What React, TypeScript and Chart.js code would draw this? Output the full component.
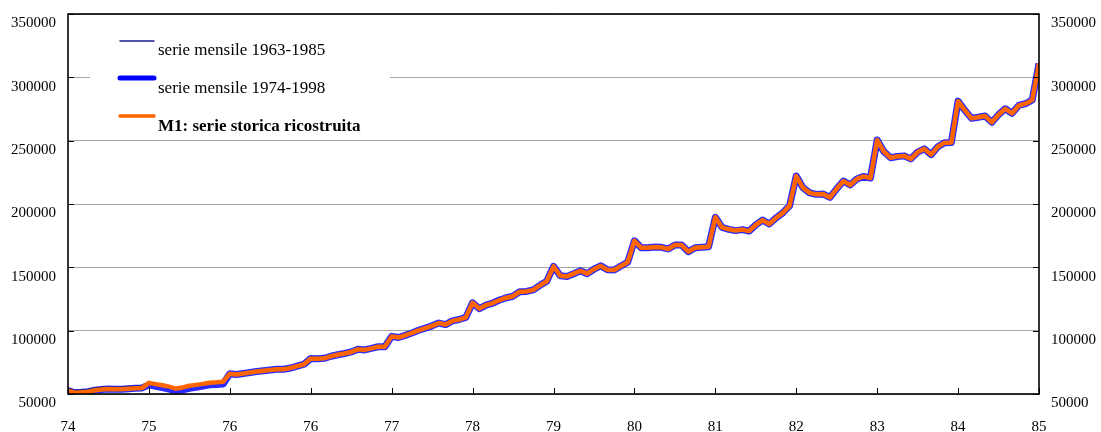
import React, { useEffect, useRef } from 'react';
import { Chart, registerables } from 'chart.js';

Chart.register(...registerables);

// Tick labels (as in the original, "76" appears twice)
const yearLabels = ['74', '75', '76', '76', '77', '78', '79', '80', '81', '82', '83', '84', '85'];
const yMin = 50000;
const yMax = 350000;
const yStep = 50000;

const legendLabels = [
  'serie mensile 1963-1985',
  'serie mensile 1974-1998',
  'M1: serie storica ricostruita',
];

// M1: serie storica ricostruita (monthly, 145 points)
const m1Ricostruita = [
  52600, 51000, 51300, 51800, 53000, 53500, 53900, 53700, 53800, 54200, 54500, 54800,
  58800, 57800, 56900, 55800, 54300, 55200, 56500, 57200, 58000, 58900, 59200, 59700,
  66000, 65400, 66200, 67000, 67700, 68400, 69000, 69600, 69500, 70500, 72000, 73500,
  78000, 77800, 78200, 79800, 81000, 82000, 83200, 85300, 84800, 86000, 87300, 87400,
  95500, 94600, 96300, 98200, 100300, 102000, 103800, 106000, 104800, 107700, 108800, 110500,
  122000, 117400, 120200, 121800, 124200, 126000, 127200, 130800, 131000, 132200, 135800, 139000,
  150800, 143300, 142800, 145000, 147300, 145000, 148500, 151200, 148000, 147900, 151000, 154000,
  171000, 165500, 165500, 166000, 165800, 164500, 167600, 167600, 162300, 165500, 165800, 166200,
  189500, 181500, 180000, 179000, 179800, 178600, 183500, 187300, 184200, 189000, 193000, 198500,
  222100, 212800, 208800, 207600, 207800, 205200, 212000, 218100, 215000, 219800, 221800, 220500,
  250500, 241300, 236500, 237500, 238000, 235600, 241000, 243500, 239000, 245200, 248400, 248600,
  281200, 274000, 267600, 268500, 269500, 264500, 270500, 275200, 271600, 277800, 279200, 282200,
  311000,
];

// serie mensile 1963-1985: differs in 1974
const serie6385Year74 = [54000, 52500, 52700, 53200, 54300, 54800, 55200, 55000, 55100, 55500, 55800, 56100];
const serie6385 = [...serie6385Year74, ...m1Ricostruita.slice(12)];

// serie mensile 1974-1998: differs in 1975
const serie7498Year75 = [57200, 56000, 55000, 53800, 52300, 53200, 54500, 55300, 56200, 57200, 57500, 57900];
const serie7498 = [...m1Ricostruita.slice(0, 12), ...serie7498Year75, ...m1Ricostruita.slice(24)];

const FONT = '"Liberation Serif", "Times New Roman", serif';

const toXY = (arr: number[]) => arr.map((v, i) => ({ x: i, y: v }));

const framePlugin = {
  id: 'frame',
  beforeDatasetsDraw(chart: any) {
    const ctx = chart.ctx;
    ctx.save();
    ctx.fillStyle = '#ffffff';
    ctx.fillRect(90, 27, 300, 111);
    ctx.restore();
  },
  afterDraw(chart: any) {
    const ctx = chart.ctx;
    const { left, right, top, bottom } = chart.chartArea;
    const xs = chart.scales.x;
    const ys = chart.scales.y;
    ctx.save();
    // tick marks (inside)
    ctx.strokeStyle = '#000';
    ctx.lineWidth = 1;
    ctx.beginPath();
    for (let k = 0; k < yearLabels.length; k++) {
      const px = Math.round(xs.getPixelForValue(k * 12)) + 0.5;
      ctx.moveTo(px, bottom);
      ctx.lineTo(px, bottom - 6);
    }
    for (let v = yMin; v <= yMax; v += yStep) {
      const py = Math.round(ys.getPixelForValue(v)) + 0.5;
      ctx.moveTo(left, py);
      ctx.lineTo(left + 6, py);
      ctx.moveTo(right, py);
      ctx.lineTo(right - 6, py);
    }
    ctx.stroke();
    // frame
    ctx.lineWidth = 1.6;
    ctx.strokeRect(left, top, right - left, bottom - top);

    // legend
    ctx.lineCap = 'round';
    ctx.strokeStyle = '#1a1a8c';
    ctx.lineWidth = 1.5;
    ctx.beginPath();
    ctx.moveTo(120, 41);
    ctx.lineTo(154, 41);
    ctx.stroke();
    ctx.strokeStyle = '#0000ff';
    ctx.lineWidth = 5;
    ctx.beginPath();
    ctx.moveTo(120, 78);
    ctx.lineTo(154, 78);
    ctx.stroke();
    ctx.strokeStyle = '#ff6600';
    ctx.lineWidth = 3.5;
    ctx.beginPath();
    ctx.moveTo(120, 116);
    ctx.lineTo(154, 116);
    ctx.stroke();

    ctx.fillStyle = '#000';
    ctx.textBaseline = 'alphabetic';
    ctx.textAlign = 'left';
    ctx.font = `17px ${FONT}`;
    ctx.fillText(legendLabels[0], 158, 55);
    ctx.fillText(legendLabels[1], 158, 93);
    ctx.font = `bold 17px ${FONT}`;
    ctx.fillText(legendLabels[2], 158, 131);
    ctx.restore();
  },
};

export default function App() {
  const ref = useRef<HTMLCanvasElement>(null);

  useEffect(() => {
    document.body.style.margin = '0';
    const canvas = ref.current;
    if (!canvas) return;
    const tickFont = { family: FONT, size: 15 };
    const plainNumber = (v: any) => String(v);
    const fitY = (w: number) => (s: any) => {
      s.width = w;
      s.paddingTop = 0;
      s.paddingBottom = 0;
    };
    const chart = new Chart(canvas, {
      type: 'line',
      data: {
        datasets: [
          {
            label: legendLabels[2],
            data: toXY(m1Ricostruita),
            borderColor: '#ff6600',
            borderWidth: 4.5,
            pointRadius: 0,
            tension: 0,
            order: 1,
            borderJoinStyle: 'round',
          },
          {
            label: legendLabels[0],
            data: toXY(serie6385),
            borderColor: '#1a1a8c',
            borderWidth: 2.5,
            pointRadius: 0,
            tension: 0,
            order: 2,
            borderJoinStyle: 'round',
          },
          {
            label: legendLabels[1],
            data: toXY(serie7498),
            borderColor: '#2a2aff',
            borderWidth: 7,
            pointRadius: 0,
            tension: 0,
            order: 3,
            borderJoinStyle: 'round',
          },
        ],
      },
      options: {
        responsive: false,
        animation: false,
        events: [],
        layout: { padding: { top: 14, left: 0, right: 0, bottom: 0 } },
        plugins: {
          legend: { display: false },
          tooltip: { enabled: false },
        },
        scales: {
          x: {
            type: 'linear',
            min: 0,
            max: 144,
            afterFit: (s: any) => {
              s.height = 38;
              s.paddingLeft = 0;
              s.paddingRight = 0;
            },
            grid: { display: false, drawTicks: false },
            border: { display: false },
            ticks: {
              stepSize: 12,
              autoSkip: false,
              maxRotation: 0,
              padding: 24,
              color: '#000',
              font: tickFont,
              callback: (v: any) => yearLabels[Math.round(Number(v) / 12)] ?? '',
            },
          },
          y: {
            position: 'left',
            min: yMin,
            max: yMax,
            afterFit: fitY(68),
            grid: { color: '#a6a6a6', lineWidth: 1, drawTicks: false },
            border: { display: false },
            ticks: {
              stepSize: yStep,
              padding: 12,
              labelOffset: 9.5,
              color: '#000',
              font: tickFont,
              callback: plainNumber,
            },
          },
          y2: {
            position: 'right',
            min: yMin,
            max: yMax,
            afterFit: fitY(62),
            grid: { display: false, drawTicks: false },
            border: { display: false },
            ticks: {
              stepSize: yStep,
              padding: 12,
              labelOffset: 9.5,
              color: '#000',
              font: tickFont,
              callback: plainNumber,
            },
          },
        },
      },
      plugins: [framePlugin],
    } as any);
    return () => chart.destroy();
  }, []);

  return (
    <div style={{ width: 1101, height: 432, position: 'relative', background: '#fff' }}>
      <canvas ref={ref} width={1101} height={432} style={{ display: 'block' }} />
    </div>
  );
}
